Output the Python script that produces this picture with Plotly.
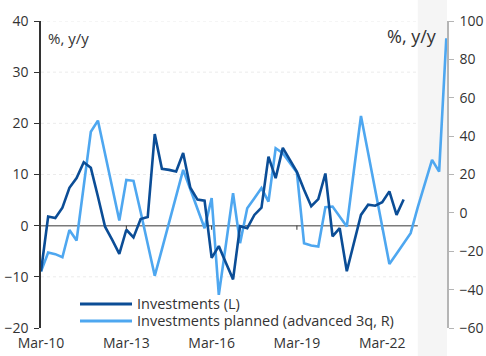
import pandas as pd
import plotly.graph_objects as go

# Quarterly y/y growth, Mar-2010 onwards
investments = [
    -8.9, 1.8, 1.5, 3.5, 7.4, 9.3, 12.4, 11.3, 5.7, -0.2,
    -2.8, -5.5, -0.8, -2.3, 1.3, 1.7, 17.9, 11.1, 10.9, 10.6,
    14.2, 7.4, 5.1, 4.9, -6.3, -4.0, -7.3, -10.5, -0.1, -0.5,
    2.1, 3.5, 13.5, 9.3, 15.2, 12.9, 10.5, 7.0, 3.8, 5.2,
    10.2, -2.1, -0.5, -8.9, -3.4, 2.1, 4.1, 3.9, 4.6, 6.7,
    2.1, 5.1,
]
planned = [
    -30.6, -20.7, -21.5, -23.1, -8.9, -14.4, 14.0, 42.3, 48.1, 30.7,
    13.3, -4.0, 17.2, 16.7, 0.5, -16.0, -32.8, -19.0, -5.2, 8.6,
    22.4, 12.3, 2.1, -8.0, 7.7, -42.7, -16.2, 10.2, -15.8, 2.4,
    7.6, 12.9, 5.9, 33.7, 31.1, 26.0, 21.0, -15.8, -17.0, -17.5,
    3.0, 3.3, -1.9, -7.1, 21.7, 50.5, 31.2, 11.9, -7.4, -26.7,
    -21.3, -16.0, -10.6, 3.0, 15.0, 27.6, 21.5, 91.0,
]
quarters = pd.date_range("2010-03-01", periods=len(planned), freq="3MS")
tick_dates = pd.to_datetime(["2010-03-01", "2013-03-01", "2016-03-01",
                             "2019-03-01", "2022-03-01"])
left_ticks = [-20, -10, 0, 10, 20, 30, 40]
right_ticks = [-60, -40, -20, 0, 20, 40, 60, 80, 100]
forecast_start = pd.Timestamp("2023-06-01")

DARK = "#0b4d96"
LIGHT = "#4ea7f0"
TEXT = "#333333"
FONT = "Open Sans"

W, H = 486, 356
ML, MR, MT, MB = 41, 39, 21, 28
PW, PH = W - ML - MR, H - MT - MB


def px(x):
    return (x - ML) / PW


def py(y):
    return (H - MB - y) / PH


fig = go.Figure()
fig.add_trace(go.Scatter(x=quarters, y=planned, yaxis="y", mode="lines",
                         line=dict(color=LIGHT, width=2.6),
                         name="Investments planned (advanced 3q, R)",
                         showlegend=False))
fig.add_trace(go.Scatter(x=quarters[:len(investments)], y=investments,
                         yaxis="y2", mode="lines",
                         line=dict(color=DARK, width=2.6),
                         name="Investments (L)", showlegend=False))

shapes = []
# shaded forecast band
shapes.append(dict(type="rect", xref="x", yref="paper",
                   x0=forecast_start, x1=pd.Timestamp("2024-11-15"),
                   y0=-0.1, y1=1.08, fillcolor="#f5f5f5",
                   line=dict(width=0), layer="below"))
# horizontal grid lines on the left scale
for v in left_ticks:
    if v in (0, -20):
        continue
    shapes.append(dict(type="line", xref="x", yref="y2",
                       x0=quarters[0], x1=forecast_start, y0=v, y1=v,
                       line=dict(color="#ebebeb", width=1, dash="dot"),
                       layer="below"))
# zero line
shapes.append(dict(type="line", xref="x", yref="y2",
                   x0=quarters[0], x1=forecast_start, y0=0, y1=0,
                   line=dict(color="#7a7a7a", width=1.5), layer="below"))
# small date ticks on the zero line
for d in tick_dates[1:]:
    shapes.append(dict(type="line", xref="x", yref="y2",
                       x0=d, x1=d, y0=0, y1=-0.8,
                       line=dict(color=TEXT, width=1), layer="below"))

# legend drawn as line samples with labels
legend_items = [("Investments (L)", DARK, 304), ("Investments planned (advanced 3q, R)", LIGHT, 321)]
annotations = []
for label, color, ypix in legend_items:
    shapes.append(dict(type="line", xref="paper", yref="paper",
                       x0=px(80), x1=px(132), y0=py(ypix), y1=py(ypix),
                       line=dict(color=color, width=3)))
    annotations.append(dict(text=label, xref="paper", yref="paper",
                            x=px(135), y=py(ypix - 1), xanchor="left",
                            yanchor="middle", showarrow=False,
                            font=dict(family=FONT, size=14.5, color=TEXT)))

annotations.append(dict(text="%, y/y", xref="paper", yref="paper",
                        x=px(46), y=py(38), xanchor="left", yanchor="middle",
                        showarrow=False, font=dict(family=FONT, size=15, color=TEXT)))
annotations.append(dict(text="%, y/y", xref="paper", yref="paper",
                        x=px(439), y=py(36), xanchor="right", yanchor="middle",
                        showarrow=False, font=dict(family=FONT, size=18, color=TEXT)))

fig.update_layout(
    width=W, height=H,
    margin=dict(l=ML, r=MR, t=MT, b=MB, autoexpand=False),
    paper_bgcolor="white", plot_bgcolor="rgba(0,0,0,0)",
    font=dict(family=FONT, size=14, color=TEXT),
    showlegend=False,
    shapes=shapes, annotations=annotations,
    xaxis=dict(range=[quarters[0], pd.Timestamp("2024-06-10")],
               tickvals=tick_dates, tickformat="%b-%y", automargin=False,
               showgrid=False, zeroline=False, showline=False, ticks="",
               ticklabelstandoff=5,
               tickfont=dict(size=14, color=TEXT)),
    yaxis=dict(range=[-60, 100], tickvals=right_ticks, side="right",
               automargin=False,
               showgrid=False, zeroline=False, showline=True,
               linecolor="#b5b5b5", linewidth=1.5, ticks="outside",
               ticklen=5, tickcolor="#b5b5b5", ticklabelstandoff=3,
               tickfont=dict(size=14, color=TEXT)),
    yaxis2=dict(range=[-20, 40], tickvals=left_ticks, side="left",
                overlaying="y", showgrid=False, zeroline=False,
                automargin=False,
                showline=True, linecolor=TEXT, linewidth=1.5,
                ticks="outside", ticklen=5, tickcolor=TEXT,
                ticklabelstandoff=3,
                tickfont=dict(size=14, color=TEXT)),
)

fig.write_html("out.html")
